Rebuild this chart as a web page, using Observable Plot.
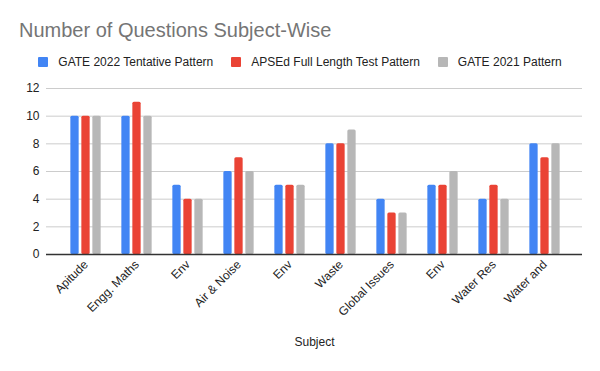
<!DOCTYPE html>
<html>
<head>
<meta charset="utf-8">
<script src="https://cdn.jsdelivr.net/npm/d3@7"></script>
<script src="https://cdn.jsdelivr.net/npm/@observablehq/plot@0.6"></script>
<style>
  html, body { margin: 0; padding: 0; background: #fff; }
  body { width: 600px; height: 371px; position: relative; overflow: hidden;
         font-family: "Liberation Sans", Arial, sans-serif; }
  #title { position: absolute; top: 20px; left: 19px; font-size: 20px; line-height: 20px; color: #757575; white-space: nowrap; }
  #legend { position: absolute; top: 56px; left: 0; width: 600px; height: 12px; display: flex; justify-content: center; align-items: center; font-size: 12px; color: #222; }
  .item { display: flex; align-items: center; margin: 0 9px; }
  .sw { width: 10px; height: 10px; margin-right: 10px; border-radius: 1px; }
  #chart { position: absolute; top: 80px; left: 0; }
</style>
</head>
<body>
<div id="title">Number of Questions Subject-Wise</div>
<div id="legend"></div>
<div id="chart"></div>
<script>
const subjects = ["Apitude", "Engg. Maths", "Env", "Air & Noise", "Env", "Waste", "Global Issues", "Env", "Water Res", "Water and"];
const seriesNames = ["GATE 2022 Tentative Pattern", "APSEd Full Length Test Pattern", "GATE 2021 Pattern"];
const seriesColors = ["#4285F4", "#EA4335", "#B7B7B7"];
const gate2022 = [10, 10, 5, 6, 5, 8, 4, 5, 4, 8];
const apsed = [10, 11, 4, 7, 5, 8, 3, 5, 5, 7];
const gate2021 = [10, 10, 4, 6, 5, 9, 3, 6, 4, 8];
const yTicks = [0, 2, 4, 6, 8, 10, 12];

const seriesValues = [gate2022, apsed, gate2021];

// legend
const legend = document.getElementById("legend");
seriesNames.forEach((name, i) => {
  const it = document.createElement("div");
  it.className = "item";
  const sw = document.createElement("div");
  sw.className = "sw";
  sw.style.background = seriesColors[i];
  const tx = document.createElement("span");
  tx.textContent = name;
  it.appendChild(sw); it.appendChild(tx);
  legend.appendChild(it);
});

const width = 600, height = 291;
const marginLeft = 46, marginRight = 18, marginTop = 8, marginBottom = 117;
const insetL = 10, insetR = 9;
const bw = (width - marginLeft - marginRight - insetL - insetR) / subjects.length;
const barW = 9, gap = 2;
const side = (bw - barW) / 2;

const idx = d3.range(subjects.length);
const barMarks = seriesValues.map((vals, s) =>
  Plot.barY(idx, {
    x: i => i,
    y: i => vals[i],
    fill: seriesColors[s],
    insetLeft: side,
    insetRight: side,
    dx: (s - 1) * (barW + gap),
    rx: 1.5
  })
);

const plot = Plot.plot({
  width, height, marginLeft, marginRight, marginTop, marginBottom,
  style: { fontFamily: "'Liberation Sans', Arial, sans-serif", fontSize: "12px", color: "#222", background: "transparent" },
  x: { type: "band", domain: idx, padding: 0, insetLeft: insetL, insetRight: insetR, label: null },
  y: { domain: [0, 12], label: null },
  marks: [
    Plot.ruleY(yTicks.filter(d => d > 0), { stroke: "#cccccc", strokeWidth: 1 }),
    ...barMarks,
    Plot.ruleY([0], { stroke: "#333333", strokeWidth: 1.3 }),
    Plot.axisY(yTicks, { tickSize: 0, tickPadding: 7, label: null, fontSize: 12, fill: "#222" }),
    Plot.axisX(idx, { tickSize: 0, tickPadding: 8, tickRotate: -45, tickFormat: i => subjects[i], label: null, fontSize: 12, fill: "#222" }),
    Plot.text(["Subject"], { frameAnchor: "bottom", dy: 91.5, fontSize: 12, fill: "#222" })
  ]
});
document.getElementById("chart").appendChild(plot);
</script>
</body>
</html>
